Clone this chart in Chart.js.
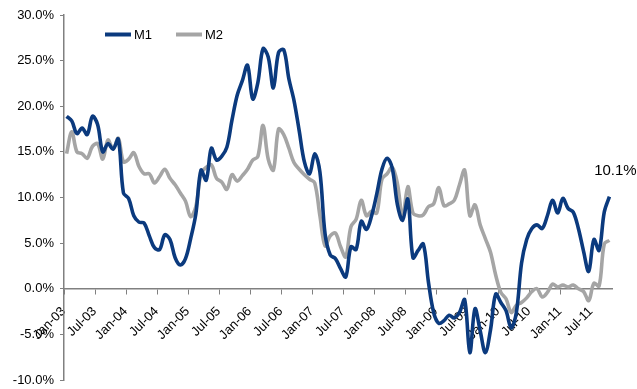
<!DOCTYPE html>
<html>
<head>
<meta charset="utf-8">
<script src="https://cdn.jsdelivr.net/npm/chart.js@4/dist/chart.umd.min.js"></script>
<style>
  html, body { margin: 0; padding: 0; background: #ffffff; }
  #wrap { width: 637px; height: 389px; position: relative; }
</style>
</head>
<body>
<div id="wrap"><canvas id="chart" width="637" height="389"></canvas></div>
<script>
// Monthly categories, Jan-03 .. Oct-11
const categories = [
  'Jan-03','Feb-03','Mar-03','Apr-03','May-03','Jun-03','Jul-03','Aug-03','Sep-03','Oct-03','Nov-03','Dec-03',
  'Jan-04','Feb-04','Mar-04','Apr-04','May-04','Jun-04','Jul-04','Aug-04','Sep-04','Oct-04','Nov-04','Dec-04',
  'Jan-05','Feb-05','Mar-05','Apr-05','May-05','Jun-05','Jul-05','Aug-05','Sep-05','Oct-05','Nov-05','Dec-05',
  'Jan-06','Feb-06','Mar-06','Apr-06','May-06','Jun-06','Jul-06','Aug-06','Sep-06','Oct-06','Nov-06','Dec-06',
  'Jan-07','Feb-07','Mar-07','Apr-07','May-07','Jun-07','Jul-07','Aug-07','Sep-07','Oct-07','Nov-07','Dec-07',
  'Jan-08','Feb-08','Mar-08','Apr-08','May-08','Jun-08','Jul-08','Aug-08','Sep-08','Oct-08','Nov-08','Dec-08',
  'Jan-09','Feb-09','Mar-09','Apr-09','May-09','Jun-09','Jul-09','Aug-09','Sep-09','Oct-09','Nov-09','Dec-09',
  'Jan-10','Feb-10','Mar-10','Apr-10','May-10','Jun-10','Jul-10','Aug-10','Sep-10','Oct-10','Nov-10','Dec-10',
  'Jan-11','Feb-11','Mar-11','Apr-11','May-11','Jun-11','Jul-11','Aug-11','Sep-11','Oct-11'
];

// Year-on-year growth, %
const m1 = [
  18.9, 18.4, 17.0, 17.6, 16.9, 18.9, 18.0, 15.0, 15.9, 15.3, 16.4, 10.5,
   9.9,  8.0,  7.3,  7.2,  5.8,  4.5,  4.3,  5.9,  5.4,  3.4,  2.6,  3.3,
   5.5,  8.2, 13.0, 11.9, 15.4, 14.1, 14.5, 15.5, 18.5, 21.2, 22.8, 24.5,
  20.8, 22.6, 26.3, 25.4, 22.0, 25.9, 26.2, 23.0, 20.6, 17.3, 13.9, 12.6,
  14.8, 12.8,  6.0,  3.7,  3.3,  2.2,  1.3,  4.6,  4.3,  7.4,  6.5,  8.0,
  10.4, 13.1, 14.3, 13.2,  9.2,  7.5,  9.8,  3.4,  4.2,  4.9,  0.7, -2.6,
  -3.8, -3.5, -2.9, -3.2, -2.6, -1.2, -7.0, -2.2, -4.6, -7.0, -4.5, -0.6,
  -1.5, -2.4, -4.3, -2.6,  2.8,  5.4,  6.6,  7.0,  6.6,  8.0,  9.7,  8.3,
   9.9,  8.8,  8.4,  6.6,  4.1,  1.9,  5.4,  4.2,  8.4, 10.1
];

const m2 = [
  14.8, 17.2, 15.0, 14.8, 14.3, 15.6, 15.9, 14.2, 16.3, 15.3, 16.5, 13.9,
  14.2, 14.9, 13.4, 12.6, 12.6, 11.6, 12.3, 13.1, 12.1, 11.4, 10.5,  9.6,
   7.9,  9.0, 12.6, 13.3, 13.6, 12.1, 11.7, 10.9, 12.5, 11.8, 12.4, 13.1,
  14.1, 14.5, 17.9, 14.2, 13.0, 17.5, 16.9, 15.4, 13.8, 13.1, 12.5, 12.0,
  11.6,  8.0,  4.7,  5.8,  6.1,  4.6,  3.5,  6.8,  7.6,  9.7,  8.0,  8.5,
   8.3, 12.0, 12.6, 13.3, 11.5,  7.8, 11.2,  8.3,  8.0,  8.1,  9.0,  9.3,
  11.1,  9.1,  9.3,  9.7, 11.4, 13.0,  8.0,  9.2,  7.0,  5.5,  4.0,  1.5,
  -0.4, -1.1, -2.6, -1.8, -1.5, -1.0, -0.3,  0.0, -0.9, -0.4,  0.5,  0.2,
   0.4,  0.2,  0.4,  0.0, -0.3, -1.3,  0.6,  0.3,  4.9,  5.3
];

const seriesNames = ['M1', 'M2'];
const seriesColors = ['#0b3a7e', '#a5a5a5'];
const axisColor = '#808080';
const fontFamily = 'Arial, "Liberation Sans", sans-serif';

// Legend inside the plot plus the end-of-line value label for M1
const overlay = {
  id: 'overlay',
  afterDatasetsDraw(chart) {
    const { ctx, chartArea } = chart;
    ctx.save();
    let x = chartArea.left + 41;
    const y = chartArea.top + 19.5;
    chart.data.datasets.forEach(ds => {
      ctx.strokeStyle = ds.borderColor;
      ctx.lineWidth = 4;
      ctx.lineCap = 'butt';
      ctx.beginPath();
      ctx.moveTo(x, y);
      ctx.lineTo(x + 26, y);
      ctx.stroke();
      ctx.fillStyle = '#000';
      ctx.font = '13px ' + fontFamily;
      ctx.textAlign = 'left';
      ctx.textBaseline = 'middle';
      ctx.fillText(ds.label, x + 29, y + 0.5);
      x += 71;
    });
    const meta = chart.getDatasetMeta(0);
    const last = meta.data[meta.data.length - 1];
    const v = chart.data.datasets[0].data[meta.data.length - 1];
    ctx.font = '15px ' + fontFamily;
    ctx.textAlign = 'center';
    ctx.textBaseline = 'middle';
    ctx.fillText(v.toFixed(1) + '%', last.x + 6, last.y - 26);
    ctx.restore();
  }
};

new Chart(document.getElementById('chart'), {
  type: 'line',
  data: {
    labels: categories,
    datasets: [
      { label: seriesNames[0], data: m1, borderColor: seriesColors[0], backgroundColor: seriesColors[0],
        borderWidth: 3.6, pointRadius: 0, tension: 0.35, fill: false },
      { label: seriesNames[1], data: m2, borderColor: seriesColors[1], backgroundColor: seriesColors[1],
        borderWidth: 3.6, pointRadius: 0, tension: 0.35, fill: false }
    ]
  },
  options: {
    responsive: false,
    animation: false,
    layout: { padding: { left: 0, top: 15, right: 25, bottom: 9 } },
    plugins: {
      legend: { display: false },
      tooltip: { enabled: false }
    },
    scales: {
      x: {
        type: 'category',
        position: { y: 0 },
        offset: true,
        grid: {
          offset: true,
          drawOnChartArea: false,
          drawTicks: true,
          tickLength: 5,
          color: ctx => (ctx.index !== undefined && ctx.index % 6 === 0) ? axisColor : 'rgba(0,0,0,0)'
        },
        border: { display: true, color: axisColor, width: 1.5 },
        ticks: {
          autoSkip: false,
          minRotation: 45,
          maxRotation: 45,
          padding: 10,
          labelOffset: -3,
          color: '#000',
          font: { family: fontFamily, size: 13 },
          callback: (val, idx) => (idx % 6 === 0 ? categories[idx] : '')
        }
      },
      y: {
        min: -10,
        max: 30,
        afterFit: s => { s.width = 64; s.paddingBottom = 8; s.paddingTop = 8; },
        grid: { drawOnChartArea: false, drawTicks: true, tickLength: 4, color: axisColor },
        border: { display: true, color: axisColor, width: 1.5 },
        ticks: {
          stepSize: 5,
          padding: 6,
          color: '#000',
          font: { family: fontFamily, size: 13 },
          callback: v => v.toFixed(1) + '%'
        }
      }
    }
  },
  plugins: [overlay]
});
</script>
</body>
</html>
